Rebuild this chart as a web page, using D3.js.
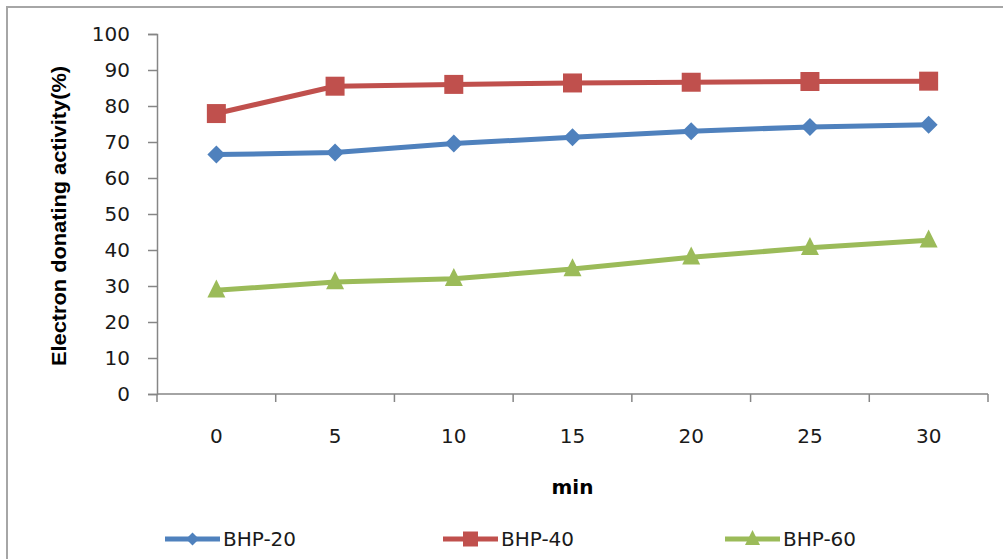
<!DOCTYPE html>
<html>
<head>
<meta charset="utf-8">
<script src="https://cdn.jsdelivr.net/npm/d3@7"></script>
<style>
  html, body { margin: 0; padding: 0; background: #fff; }
  svg { display: block; }
</style>
</head>
<body>
<svg id="chart" width="1003" height="559"></svg>
<script>
const categories = ["0", "5", "10", "15", "20", "25", "30"];
const bhp20 = [66.5, 67.1, 69.6, 71.3, 73.0, 74.2, 74.8];
const bhp40 = [77.9, 85.5, 86.0, 86.4, 86.6, 86.8, 86.9];
const bhp60 = [28.8, 31.1, 32.0, 34.7, 38.0, 40.6, 42.7];
const yTicks = [0, 10, 20, 30, 40, 50, 60, 70, 80, 90, 100];
const seriesNames = ["BHP-20", "BHP-40", "BHP-60"];
const seriesColors = ["#4F81BD", "#C0504D", "#9BBB59"];
const seriesMarkers = ["diamond", "square", "triangle"];
const yTitle = "Electron donating activity(%)";
const xTitle = "min";

const series = [bhp20, bhp40, bhp60].map((vals, i) => ({
  name: seriesNames[i], color: seriesColors[i], marker: seriesMarkers[i],
  values: vals.map((v, j) => ({ c: categories[j], v }))
}));

const svg = d3.select("#chart");
const font = "'DejaVu Sans', sans-serif";
const narrowBold = "'Liberation Sans Narrow', 'Liberation Sans', sans-serif";
const axisColor = "#868686";
const textColor = "#1a1a1a";

// outer border
svg.append("path")
  .attr("d", "M7,560 L7,7 L1004,7")
  .attr("fill", "none").attr("stroke", "#a6a6a6").attr("stroke-width", 2);

const plot = { left: 157, right: 988, top: 34, bottom: 394 };

const x = d3.scaleBand().domain(categories).range([plot.left, plot.right]).paddingInner(0).paddingOuter(0);
const y = d3.scaleLinear().domain([0, 100]).range([plot.bottom, plot.top]);

// Y axis
const yAxis = svg.append("g").attr("transform", `translate(${plot.left},0)`)
  .call(d3.axisLeft(y).tickValues(yTicks).tickSize(9).tickPadding(18).tickFormat(d3.format("d")));
yAxis.select(".domain").attr("stroke", axisColor).attr("stroke-width", 1.5);
yAxis.selectAll(".tick line").attr("stroke", axisColor).attr("stroke-width", 1.5);
yAxis.selectAll(".tick text").attr("font-family", font).attr("font-size", 20).attr("fill", textColor);

// X axis: ticks at category boundaries
const xb = svg.append("g");
xb.append("line").attr("x1", plot.left).attr("x2", plot.right)
  .attr("y1", y(0)).attr("y2", y(0)).attr("stroke", axisColor).attr("stroke-width", 1.5);
const bounds = categories.map(c => x(c)).concat([x(categories[categories.length - 1]) + x.bandwidth()]);
xb.selectAll("line.tk").data(bounds).join("line").attr("class", "tk")
  .attr("x1", d => d).attr("x2", d => d).attr("y1", y(0)).attr("y2", y(0) + 8)
  .attr("stroke", axisColor).attr("stroke-width", 1.5);
xb.selectAll("text").data(categories).join("text")
  .attr("x", d => x(d) + x.bandwidth() / 2).attr("y", y(0) + 49)
  .attr("text-anchor", "middle").attr("font-family", font).attr("font-size", 20).attr("fill", textColor)
  .text(d => d);

// titles
svg.append("text").attr("x", (plot.left + plot.right) / 2).attr("y", 494)
  .attr("text-anchor", "middle").attr("font-family", font).attr("font-weight", "bold")
  .attr("font-size", 20).attr("fill", "#000").text(xTitle);
svg.append("text").attr("transform", `translate(66,216) rotate(-90)`)
  .attr("text-anchor", "middle").attr("font-family", narrowBold).attr("font-weight", "bold")
  .attr("font-size", 21).attr("fill", "#000")
  .attr("textLength", 300).attr("lengthAdjust", "spacingAndGlyphs")
  .text(yTitle);

function markerPath(type, cx, cy, s) {
  if (type === "diamond") {
    const h = s / 2;
    return `M${cx},${cy - h}L${cx + h},${cy}L${cx},${cy + h}L${cx - h},${cy}Z`;
  }
  if (type === "square") {
    const h = s / 2;
    return `M${cx - h},${cy - h}H${cx + h}V${cy + h}H${cx - h}Z`;
  }
  const w = s / 2;
  return `M${cx},${cy - s * 0.6}L${cx + w},${cy + s * 0.4}L${cx - w},${cy + s * 0.4}Z`;
}
const markerSize = { diamond: 18, square: 19, triangle: 18 };

const line = d3.line().x(d => x(d.c) + x.bandwidth() / 2).y(d => y(d.v));
const g = svg.append("g");
series.forEach(s => {
  g.append("path").datum(s.values).attr("d", line)
    .attr("fill", "none").attr("stroke", s.color).attr("stroke-width", 5)
    .attr("stroke-linejoin", "round");
  g.selectAll(null).data(s.values).join("path")
    .attr("d", d => markerPath(s.marker, x(d.c) + x.bandwidth() / 2, y(d.v), markerSize[s.marker]))
    .attr("fill", s.color);
});

// legend
const legendX = [165, 443, 725];
const lg = svg.append("g");
series.forEach((s, i) => {
  const lx = legendX[i], ly = 539;
  lg.append("line").attr("x1", lx).attr("x2", lx + 55).attr("y1", ly).attr("y2", ly)
    .attr("stroke", s.color).attr("stroke-width", 5);
  lg.append("path").attr("d", markerPath(s.marker, lx + 27.5, ly, s.marker === "diamond" ? 13 : 15)).attr("fill", s.color);
  lg.append("text").attr("x", lx + 58).attr("y", ly + 7)
    .attr("font-family", font).attr("font-size", 20).attr("fill", textColor).text(s.name);
});
</script>
</body>
</html>
